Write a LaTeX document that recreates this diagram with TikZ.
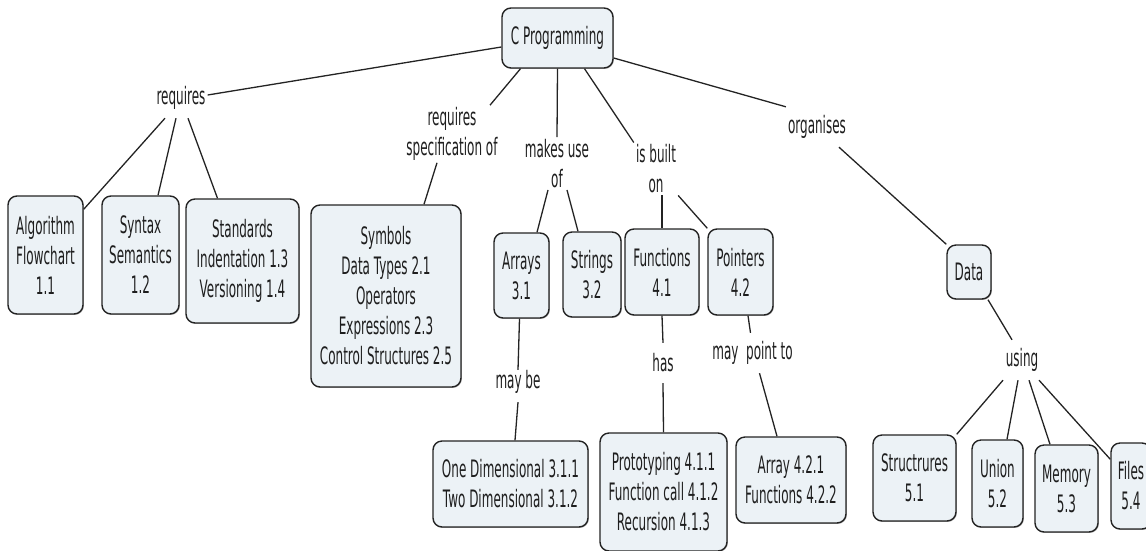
\documentclass[tikz,border=0pt]{standalone}
\usepackage{fontspec}
\setmainfont{DejaVu Sans}[FakeStretch=0.5]
\usetikzlibrary{shadows}
\definecolor{boxfill}{RGB}{236,242,246}
\definecolor{edge}{RGB}{35,35,35}
\definecolor{ink}{RGB}{30,30,30}
\begin{document}
\begin{tikzpicture}[x=1pt,y=-1pt,
  every node/.style={font=\fontsize{24}{30}\selectfont},
  concept/.style={draw=edge, line width=1.4pt, fill=boxfill, rounded corners=9pt,
    align=center, inner sep=2pt, text=ink,
    drop shadow={shadow xshift=0.9pt, shadow yshift=-0.9pt, fill=black!50, opacity=0.6}},
  sz/.style 2 args={minimum width=#1pt, minimum height=#2pt},
  link/.style={align=center, inner sep=2pt, minimum height=40pt, text=ink},
  conn/.style={draw=edge, line width=1.3pt}]

\useasboundingbox (0,0) rectangle (1146,550);
\clip (0,0) rectangle (1146,550);

% root concept
\node[concept, sz={111}{60}] (cp) at (557.5,38) {C Programming};

% first level concepts
\node[concept, sz={75}{118}]  (alg) at (45.5,255)  {Algorithm\\Flowchart\\1.1};
\node[concept, sz={77}{118}]  (syn) at (140.5,255) {Syntax\\Semantics\\1.2};
\node[concept, sz={113}{124}] (std) at (242.5,261) {Standards\\Indentation 1.3\\Versioning 1.4};
\node[concept, sz={150}{182}] (sym) at (386,296)   {Symbols\\Data Types 2.1\\Operators\\Expressions 2.3\\Control Structures 2.5};
\node[concept, sz={55}{85}]   (arr) at (521.5,275.5) {Arrays\\3.1};
\node[concept, sz={58}{85}]   (str) at (592,274.5) {Strings\\3.2};
\node[concept, sz={74}{86}]   (fun) at (662,272)   {Functions\\4.1};
\node[concept, sz={65}{86}]   (ptr) at (740.5,272) {Pointers\\4.2};
\node[concept, sz={44}{54}]   (data) at (969,272)  {Data};

% second level concepts
\node[concept, sz={155}{86}]  (onedim) at (510.5,484) {One Dimensional 3.1.1\\Two Dimensional 3.1.2};
\node[concept, sz={127}{118}] (proto) at (663.5,492) {Prototyping 4.1.1\\Function call 4.1.2\\Recursion 4.1.3};
\node[concept, sz={110}{86}]  (arrp) at (791,480)  {Array 4.2.1\\Functions 4.2.2};
\node[concept, sz={83}{86}]   (struct) at (914.5,478) {Structrures\\5.1};
\node[concept, sz={51}{87}]   (union) at (997.5,483.5) {Union\\5.2};
\node[concept, sz={63}{87}]   (mem) at (1066.5,488.5) {Memory\\5.3};
\node[concept, sz={40}{86}]   (files) at (1131,486) {Files\\5.4};

% linking phrases
\node[link] (req)     at (181,98)   {requires};
\node[link] (reqspec) at (452,134)  {requires\\specification of};
\node[link] (makes)   at (557,163.5) {makes use\\of};
\node[link] (built)   at (656,169)  {is built\\on};
\node[link] (org)     at (817,127)  {organises};
\node[link] (using)   at (1022,360) {using};
\node[link] (maybe)   at (518,382)  {may be};
\node[link] (has)     at (663,363)  {has};
\node[link] (mayp)    at (752.5,353) {may\ \ point to};

% connectors
\draw[conn] ([yshift=-9pt]cp.west) -- ([yshift=3pt]req.east);
\draw[conn] ([xshift=-16pt]req.south) -- ([yshift=-14pt]alg.north east);
\draw[conn] ([xshift=-5pt]req.south) -- ([xshift=17.5pt]syn.north);
\draw[conn] ([xshift=7pt]req.south) -- ([xshift=-25pt]std.north);

\draw[conn] ([xshift=-37pt]cp.south) -- ([xshift=38pt]reqspec.north);
\draw[conn] ([xshift=-15pt]reqspec.south) -- ([xshift=38pt]sym.north);

\draw[conn] (cp.south) -- (makes.north);
\draw[conn] ([xshift=-9pt]makes.south) -- ([xshift=15.5pt]arr.north);
\draw[conn] ([xshift=10pt]makes.south) -- ([xshift=-14pt]str.north);

\draw[conn] ([xshift=27pt]cp.south) -- (built.north west);
\draw[conn] (fun.north |- built.south) -- (fun.north);
\draw[conn] (built.south east) -- (ptr.north west);

\draw[conn] ([yshift=-20pt]cp.east) -- (org.north west);
\draw[conn] ([xshift=22pt]org.south) -- (data.north west);
\draw[conn] ([xshift=19pt]data.south) -- ([xshift=-10pt]using.north);
\draw[conn] ([xshift=-19pt]using.south) -- (struct.north east);
\draw[conn] ([xshift=-4pt]using.south) -- ([xshift=9.5pt]union.north);
\draw[conn] ([xshift=7pt]using.south) -- ([xshift=-16.5pt]mem.north);
\draw[conn] ([xshift=17pt]using.south) -- ([yshift=-17pt]files.north west);

\draw[conn] ([xshift=-2pt]arr.south) -- ([yshift=-8pt]maybe.north);
\draw[conn] (maybe.south) -- ([xshift=4.5pt]onedim.north);
\draw[conn] (fun.south) -- (has.north);
\draw[conn] (has.south) -- (proto.north);
\draw[conn] ([xshift=7.5pt]ptr.south) -- ([xshift=-2pt]mayp.north);
\draw[conn] ([xshift=7pt]mayp.south) -- ([xshift=-14pt]arrp.north);
\end{tikzpicture}
\end{document}
